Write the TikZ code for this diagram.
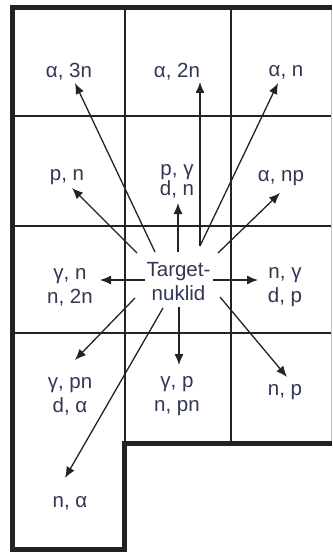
\documentclass[tikz,border=0pt]{standalone}
\usepackage{fontspec}
\setmainfont{Liberation Sans}
\usetikzlibrary{arrows.meta}
\definecolor{txt}{RGB}{50,55,85}
\definecolor{ln}{RGB}{35,35,35}
\tikzset{
  lbl/.style={text=txt,align=center,inner sep=0pt,font=\fontsize{20.5}{24}\selectfont},
  thin/.style={draw=ln,line width=1.2pt},
  thick/.style={draw=ln,line width=5pt},
  arr/.style={draw=ln,line width=1.3pt,-{Latex[length=11pt,width=9pt]}}
}
\begin{document}
\begin{tikzpicture}[x=1pt,y=-1pt]
\useasboundingbox[fill=white] (0,0) rectangle (332,553);
% grid thin lines
\draw[thin] (125,8) -- (125,443);
\draw[thin] (231,8) -- (231,443);
\draw[thin] (12.5,116) -- (332,116);
\draw[thin] (12.5,226) -- (332,226);
\draw[thin] (12.5,333) -- (332,333);
\draw[draw=black!25,line width=1pt] (331,8) -- (331,443);
% thick border
\draw[thick,line join=miter] (332,8) -- (12.5,8) -- (12.5,549) -- (124,549) -- (124,443) -- (332,443);
% labels
\node[lbl] (a3n) at (69,72) {α, 3n};
\node[lbl] (a2n) at (177,72) {α, 2n};
\node[lbl] (an) at (286,72) {α, n};
\node[lbl] (pn) at (67,177) {p, n};
\node[lbl,font=\fontsize{20.5}{19}\selectfont] (pg) at (177,181) {p, γ\\d, n};
\node[lbl] (anp) at (281,178) {α, np};
\node[lbl] (gn) at (70,287) {γ, n\\n, 2n};
\node[lbl] (tgt) at (178.5,282) {Target-\\nuklid};
\node[lbl] (ng) at (285,287) {n, γ\\d, p};
\node[lbl] (gpn) at (70,396) {γ, pn\\d, α};
\node[lbl] (gp) at (177,396) {γ, p\\n, pn};
\node[lbl] (np) at (285,392) {n, p};
\node[lbl] (na) at (70,503) {n, α};
% arrow ends
\coordinate (s1) at (155,252); \coordinate (e1) at (75,83);
\coordinate (s2) at (200,246); \coordinate (e2) at (200,82);
\coordinate (s3) at (200,246); \coordinate (e3) at (278,83);
\coordinate (s4) at (137,253); \coordinate (e4) at (72,188);
\coordinate (s5) at (178,252); \coordinate (e5) at (178,203);
\coordinate (s6) at (218,253); \coordinate (e6) at (280,193);
\coordinate (s7) at (145,280); \coordinate (e7) at (100,280);
\coordinate (s8) at (213,280); \coordinate (e8) at (258,280);
\coordinate (s9) at (135,298); \coordinate (e9) at (75,360);
\coordinate (s10) at (163,308); \coordinate (e10) at (65,478);
\coordinate (s11) at (179,307); \coordinate (e11) at (179,365);
\coordinate (s12) at (220,297); \coordinate (e12) at (287,377);
\foreach \i in {1,...,12} {\draw[arr] (s\i) -- (e\i);}
\end{tikzpicture}
\end{document}
